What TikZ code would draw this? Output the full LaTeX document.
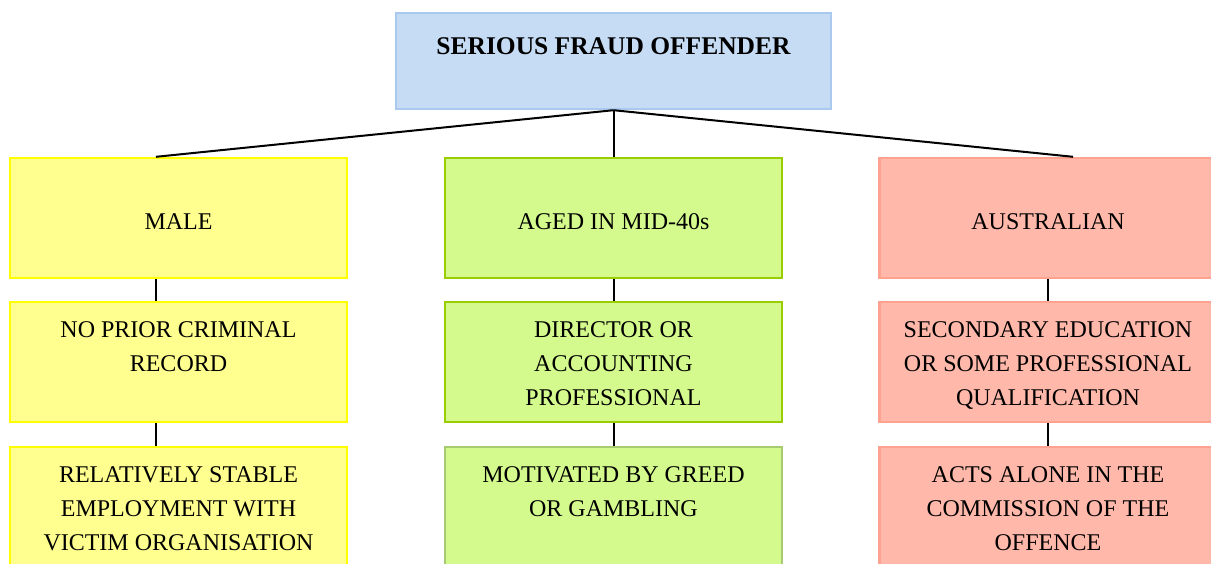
\documentclass[tikz,border=0pt]{standalone}
\usepackage{fontspec}
\setmainfont{Liberation Serif}
\usetikzlibrary{positioning}
\definecolor{boxblue}{HTML}{C6DCF5}
\definecolor{lineblue}{HTML}{A9C9EE}
\definecolor{boxyellow}{HTML}{FFFF8F}
\definecolor{lineyellow}{HTML}{FFFF00}
\definecolor{boxgreen}{HTML}{D4FA8D}
\definecolor{linegreen}{HTML}{9ACD00}
\definecolor{linegreenpale}{HTML}{A6CB72}
\definecolor{boxred}{HTML}{FFB8AA}
\definecolor{linered}{HTML}{FFA290}
\newcommand{\toptext}[3][330pt]{\parbox[c][#2][t]{#1}{\centering #3}}

\begin{document}
\begin{tikzpicture}[on grid, line width=2pt,
    cell/.style={minimum width=337pt, minimum height=120pt, inner sep=0pt,
      line width=2.4pt, font=\fontsize{24}{34}\selectfont, align=center},
    yellowcell/.style={cell, fill=boxyellow, draw=lineyellow},
    greencell/.style={cell, fill=boxgreen, draw=linegreen},
    redcell/.style={cell, fill=boxred, draw=linered},
    lowtext/.style={text height=24pt, text depth=0pt}]
    \useasboundingbox (0pt,0pt) rectangle (1211pt,-564pt);
    \node[cell, fill=boxblue, draw=lineblue, minimum width=435pt, minimum height=96pt,
      font=\fontsize{25.5}{34}\bfseries]
      (sfo) at (613.5pt,-61pt) {\toptext[420pt]{47pt}{SERIOUS FRAUD OFFENDER}};

    \node[yellowcell, lowtext, below left=157pt and 435pt of sfo] (male) {MALE};
    \node[greencell, lowtext, below=157pt of sfo] (aged) {AGED IN MID-40s};
    \node[redcell, lowtext, below right=157pt and 434.5pt of sfo] (aus) {AUSTRALIAN};

    \node[yellowcell, below=144pt of male] (record) {\toptext{80pt}{NO PRIOR CRIMINAL\\RECORD}};
    \node[greencell, below=144pt of aged] (director) {\toptext{80pt}{DIRECTOR OR\\ACCOUNTING\\PROFESSIONAL}};
    \node[redcell, below=144pt of aus] (school) {\toptext{80pt}{SECONDARY EDUCATION\\OR SOME PROFESSIONAL\\QUALIFICATION}};

    \node[yellowcell, below=145pt of record] (employ) {\toptext{80pt}{RELATIVELY STABLE\\EMPLOYMENT WITH\\VICTIM ORGANISATION}};
    \node[greencell, draw=linegreenpale, below=145pt of director] (greed) {\toptext{80pt}{MOTIVATED BY GREED\\OR GAMBLING}};
    \node[redcell, below=145pt of school] (alone) {\toptext{80pt}{ACTS ALONE IN THE\\COMMISSION OF THE\\OFFENCE}};

    \draw (sfo.south) -- ([xshift=-22.5pt]male.north);
    \draw (sfo.south) -- (aged.north);
    \draw (sfo.south) -- ([xshift=25pt]aus.north);
    \draw ([xshift=-23pt]male.south) -- ([xshift=-23pt]record.north);
    \draw ([xshift=-23pt]record.south) -- ([xshift=-23pt]employ.north);
    \draw (aged.south) -- (director.north);
    \draw (director.south) -- (greed.north);
    \draw (aus.south) -- (school.north);
    \draw (school.south) -- (alone.north);
\end{tikzpicture}
\end{document}
